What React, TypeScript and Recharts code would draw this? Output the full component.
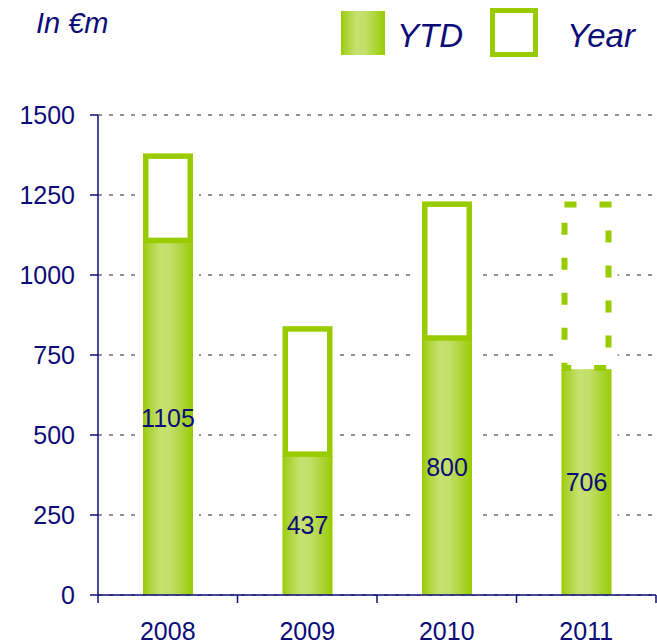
import { BarChart, Bar, XAxis, YAxis, CartesianGrid, LabelList } from "recharts";

const years = ["2008", "2009", "2010", "2011"];
const ytdValues = [1105, 437, 800, 706];
const yearValues = [1380, 840, 1230, 1230];
const isForecast = [false, false, false, true];
const yTicks = [0, 250, 500, 750, 1000, 1250, 1500];

const NAVY = "#0c0c78";
const GREEN = "#99cc00";
const FONT = "'Liberation Sans', Arial, sans-serif";

const data = years.map((y, i) => ({
  year: y,
  ytd: ytdValues[i],
  rest: yearValues[i] - ytdValues[i],
  forecast: isForecast[i],
}));

function GradientStops() {
  return (
    <>
      <stop offset="0%" stopColor="#99cc00" />
      <stop offset="10%" stopColor="#a8d22e" />
      <stop offset="35%" stopColor="#c6e170" />
      <stop offset="55%" stopColor="#c2df68" />
      <stop offset="85%" stopColor="#a6d22a" />
      <stop offset="100%" stopColor="#99cc00" />
    </>
  );
}

// YTD part: white backing (hides the grid next to the bar) + gradient fill
function YtdShape(props: any) {
  const { x, y, width, height } = props;
  if (!height) return <g />;
  return (
    <g>
      <rect x={x - 6} y={y} width={width + 12} height={height} fill="#fff" />
      <rect x={x} y={y} width={width} height={height} fill="url(#ytdGrad)" />
    </g>
  );
}

// remainder up to full year: outlined box, dashed for the forecast year
function YearShape(props: any) {
  const { x, y, width, height, payload } = props;
  if (!height) return <g />;
  const dashed = payload?.forecast;
  const sw = dashed ? 6 : 5.5;
  return (
    <g>
      <rect x={x - 6} y={y} width={width + 12} height={height} fill="#fff" />
      <rect
        x={x + sw / 2}
        y={y + sw / 2}
        width={width - sw}
        height={height - sw / 2 - 1}
        fill="#fff"
        stroke={GREEN}
        strokeWidth={sw}
        strokeDasharray={dashed ? "12 23" : undefined}
      />
    </g>
  );
}

function YearTick(props: any) {
  const { x, y, payload, index } = props;
  const half = payload?.offset || 69.75;
  return (
    <g>
      <line x1={x - half} y1={y} x2={x - half} y2={y + 8} stroke={NAVY} strokeWidth={1.5} />
      {index === years.length - 1 && (
        <line x1={x + half} y1={y} x2={x + half} y2={y + 8} stroke={NAVY} strokeWidth={1.5} />
      )}
      <text x={x} y={y + 45} textAnchor="middle" fill={NAVY} fontSize={25} fontFamily={FONT}>
        {payload.value}
      </text>
    </g>
  );
}

export default function App() {
  return (
    <div style={{ position: "absolute", left: 0, top: 0, width: 657, height: 644, fontFamily: FONT, background: "#fff" }}>
      <BarChart
        width={657}
        height={644}
        data={data}
        margin={{ top: 115, right: 1, left: 0, bottom: 0 }}
        barSize={50}
      >
        <defs>
          <linearGradient id="ytdGrad" x1="0" y1="0" x2="1" y2="0">
            <GradientStops />
          </linearGradient>
        </defs>
        <CartesianGrid
          vertical={false}
          stroke="#939393"
          strokeWidth={2}
          strokeDasharray="4 7"
        />
        <XAxis
          dataKey="year"
          height={49}
          axisLine={{ stroke: NAVY, strokeWidth: 1.5 }}
          tickLine={false}
          tickSize={0}
          tickMargin={0}
          tick={<YearTick />}
          interval={0}
        />
        <YAxis
          width={98}
          domain={[0, 1500]}
          ticks={yTicks}
          axisLine={{ stroke: NAVY, strokeWidth: 1.5 }}
          tickLine={{ stroke: NAVY, strokeWidth: 1.5 }}
          tickSize={8}
          tickMargin={15}
          tick={{ fill: NAVY, fontSize: 25, fontFamily: FONT }}
        />
        <Bar dataKey="ytd" stackId="a" shape={<YtdShape />} isAnimationActive={false}>
          <LabelList dataKey="ytd" position="center" fill={NAVY} fontSize={25} fontFamily={FONT} />
        </Bar>
        <Bar dataKey="rest" stackId="a" shape={<YearShape />} isAnimationActive={false} />
      </BarChart>

      <svg width={657} height={70} style={{ position: "absolute", left: 0, top: 0, pointerEvents: "none" }}>
        <defs>
          <linearGradient id="legendGrad" x1="0" y1="0" x2="1" y2="0">
            <GradientStops />
          </linearGradient>
        </defs>
        <text x={36} y={33} fontSize={29} fontStyle="italic" fill={NAVY} fontFamily={FONT}>
          In €m
        </text>
        <rect x={341} y={11} width={44} height={44} fill="url(#legendGrad)" />
        <text x={397} y={47} fontSize={33} fontStyle="italic" fill={NAVY} fontFamily={FONT}>
          YTD
        </text>
        <rect x={492.5} y={10.5} width={43} height={44} fill="#fff" stroke={GREEN} strokeWidth={5} />
        <text x={567} y={47} fontSize={33} fontStyle="italic" fill={NAVY} fontFamily={FONT}>
          Year
        </text>
      </svg>
    </div>
  );
}
